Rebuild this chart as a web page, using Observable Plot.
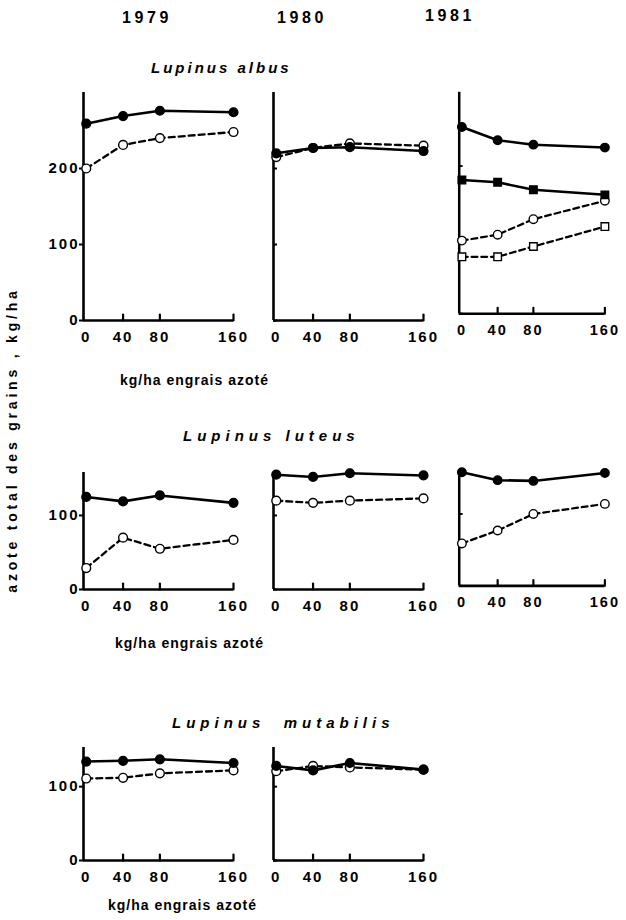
<!DOCTYPE html>
<html>
<head>
<meta charset="utf-8">
<script src="https://cdn.jsdelivr.net/npm/d3@7"></script>
<script src="https://cdn.jsdelivr.net/npm/@observablehq/plot@0.6"></script>
<style>
  html, body { margin: 0; padding: 0; background: #fff; }
  #root { position: relative; width: 626px; height: 920px; background: #fff;
    font-family: "Liberation Sans", Arial, sans-serif; font-weight: bold; color: #000; overflow: hidden; }
  .t { position: absolute; white-space: nowrap; line-height: 1; transform: translateY(-50%); }
  .panel { position: absolute; }
  .panel svg { overflow: visible; background: transparent; }
</style>
</head>
<body>
<div id="root"></div>
<script>
// ---- data ----
const doses = [0, 40, 80, 160];
const xTicks = [0, 40, 80, 160];
const years = ["1979", "1980", "1981"];
const species = ["Lupinus albus", "Lupinus luteus", "Lupinus mutabilis"];
const yTicksAlbus = [0, 100, 200];
const yTicksOther = [0, 100];
const xLabel = "kg/ha engrais azoté";
const yLabel = "azote total des grains , kg/ha";

// Lupinus albus
const albus1979Plein = [259, 269, 276, 274];
const albus1979Vide = [200, 231, 240, 248];
const albus1980Plein = [220, 227, 228, 223];
const albus1980Vide = [215, 227, 233, 230];
const albus1981PleinRond = [253, 235, 229, 225];
const albus1981PleinCarre = [181, 178, 168, 161];
const albus1981VideRond = [99, 107, 128, 153];
const albus1981VideCarre = [77, 77, 91, 118];
// Lupinus luteus
const luteus1979Plein = [125, 119, 127, 117];
const luteus1979Vide = [29, 70, 55, 67];
const luteus1980Plein = [155, 152, 157, 154];
const luteus1980Vide = [120, 117, 120, 123];
const luteus1981Plein = [158, 147, 146, 157];
const luteus1981Vide = [59, 77, 100, 114];
// Lupinus mutabilis
const mutabilis1979Plein = [134, 135, 137, 132];
const mutabilis1979Vide = [111, 112, 118, 122];
const mutabilis1980Plein = [128, 122, 132, 123];
const mutabilis1980Vide = [121, 128, 126, 123];

// ---- layout ----
const root = document.getElementById("root");
const xDomain = [-3, 160];
const M = {left: 44, right: 22, top: 8, bottom: 30};
const innerW = 150;

function serie(values, filled, symbol) {
  return {filled, symbol, rows: values.map((v, i) => ({dose: doses[i], value: v}))};
}

// shape of the small upward ticks on the x axis
const tickShape = {draw(ctx, l) { ctx.moveTo(0, 0); ctx.lineTo(0, -l); }};

const rows = [
  {ymax: 300, h: 228, zero: 320, yTicks: yTicksAlbus, panels: [
    [serie(albus1979Vide, false, "circle"), serie(albus1979Plein, true, "circle")],
    [serie(albus1980Vide, false, "circle"), serie(albus1980Plein, true, "circle")],
    [serie(albus1981VideCarre, false, "square"), serie(albus1981VideRond, false, "circle"),
     serie(albus1981PleinCarre, true, "square"), serie(albus1981PleinRond, true, "circle")]
  ]},
  {ymax: 158, h: 117, zero: 589, yTicks: yTicksOther, panels: [
    [serie(luteus1979Vide, false, "circle"), serie(luteus1979Plein, true, "circle")],
    [serie(luteus1980Vide, false, "circle"), serie(luteus1980Plein, true, "circle")],
    [serie(luteus1981Vide, false, "circle"), serie(luteus1981Plein, true, "circle")]
  ]},
  {ymax: 153, h: 113, zero: 860, yTicks: yTicksOther, panels: [
    [serie(mutabilis1979Vide, false, "circle"), serie(mutabilis1979Plein, true, "circle")],
    [serie(mutabilis1980Vide, false, "circle"), serie(mutabilis1980Plein, true, "circle")]
  ]}
];
const colZero = [86, 276, 463];

rows.forEach((row) => {
  row.panels.forEach((series, ci) => {
    const marks = [
      Plot.ruleX([xDomain[0]], {stroke: "black", strokeWidth: 2.6}),
      Plot.ruleY([0], {stroke: "black", strokeWidth: 2.6}),
      Plot.axisX({ticks: xTicks, tickSize: 0, tickPadding: 11, fontSize: 15, fontWeight: "bold", label: null}),
      Plot.vector(xTicks.slice(1), {x: (d) => d, frameAnchor: "bottom", length: 6, rotate: 0,
        anchor: "start", shape: tickShape, stroke: "black", strokeWidth: 2.2}),
      ci === 0
        ? Plot.axisY({ticks: row.yTicks, tickSize: 4, tickPadding: 0, fontSize: 15, fontWeight: "bold", strokeWidth: 2, label: null})
        : Plot.axisY({ticks: row.yTicks, tickSize: -4, tickFormat: () => "", strokeWidth: 2, label: null})
    ];
    for (const s of series) {
      marks.push(Plot.line(s.rows, {x: "dose", y: "value", stroke: "black",
        strokeWidth: s.filled ? 2.6 : 2.3, strokeDasharray: s.filled ? null : "6,4"}));
    }
    for (const s of series) {
      marks.push(Plot.dot(s.rows, {x: "dose", y: "value", symbol: s.symbol, r: 4.4,
        fill: s.filled ? "black" : "white", stroke: "black", strokeWidth: 1.4}));
    }
    const chart = Plot.plot({
      width: M.left + innerW + M.right,
      height: M.top + row.h + M.bottom,
      marginLeft: M.left, marginRight: M.right, marginTop: M.top, marginBottom: M.bottom,
      x: {domain: xDomain},
      y: {domain: [0, row.ymax]},
      style: {background: "transparent", fontFamily: "'Liberation Sans', Arial, sans-serif",
        fontWeight: "bold", fontSize: "15px", letterSpacing: "2px", color: "black", overflow: "visible"},
      marks
    });
    const div = document.createElement("div");
    div.className = "panel";
    div.style.left = (colZero[ci] - M.left - innerW * 3 / 163) + "px";
    div.style.top = (row.zero - row.h - M.top) + "px";
    div.appendChild(chart);
    root.appendChild(div);
  });
});

function addText(txt, x, y, css) {
  const d = document.createElement("div");
  d.className = "t";
  d.textContent = txt;
  d.style.left = x + "px";
  d.style.top = y + "px";
  Object.assign(d.style, css || {});
  root.appendChild(d);
  return d;
}

// year headers
const yearPos = [[122, 18], [277, 18], [425, 16]];
years.forEach((y, i) => addText(y, yearPos[i][0], yearPos[i][1], {fontSize: "16px", letterSpacing: "3.6px"}));

// species titles
addText(species[0], 151, 67, {fontSize: "15px", fontStyle: "italic", letterSpacing: "3px"});
addText(species[1], 183, 435, {fontSize: "15px", fontStyle: "italic", letterSpacing: "5px"});
addText(species[2].replace(" ", "  "), 172, 722, {fontSize: "15px", fontStyle: "italic", letterSpacing: "5px", whiteSpace: "pre"});

// x labels
addText(xLabel, 120, 380, {fontSize: "14px", letterSpacing: "1px"});
addText(xLabel, 115, 643, {fontSize: "14px", letterSpacing: "1px"});
addText(xLabel, 108, 905, {fontSize: "14px", letterSpacing: "1px"});

// y label
const yl = addText(yLabel, 12, 440, {fontSize: "14px", letterSpacing: "3.8px"});
yl.style.transform = "translate(-50%, -50%) rotate(-90deg)";
</script>
</body>
</html>
